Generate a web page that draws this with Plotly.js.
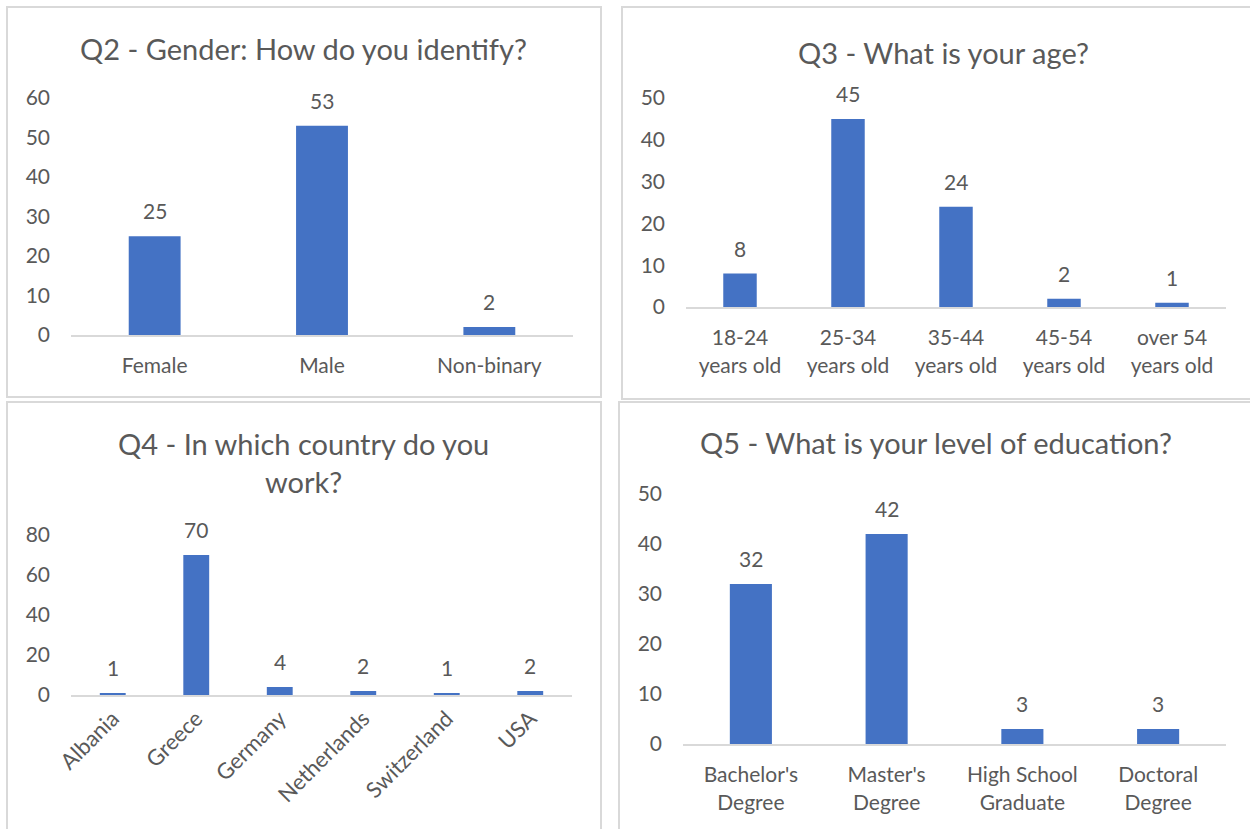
<!DOCTYPE html>
<html>
<head>
<meta charset="utf-8">
<script src="https://cdn.plot.ly/plotly-3.0.1.min.js"></script>
<style>
  html, body { margin: 0; padding: 0; background: #ffffff; }
  #chart { width: 1250px; height: 829px; }
</style>
</head>
<body>
<div id="chart"></div>
<script>
// Survey demographics: four bar charts
const genderCategories = ['Female', 'Male', 'Non-binary'];
const genderCounts = [25, 53, 2];

const ageCategories = ['18-24<br>years old', '25-34<br>years old', '35-44<br>years old', '45-54<br>years old', 'over 54<br>years old'];
const ageCounts = [8, 45, 24, 2, 1];

const countryCategories = ['Albania', 'Greece', 'Germany', 'Netherlands', 'Switzerland', 'USA'];
const countryCounts = [1, 70, 4, 2, 1, 2];

const educationCategories = ["Bachelor's<br>Degree", "Master's<br>Degree", 'High School<br>Graduate', 'Doctoral<br>Degree'];
const educationCounts = [32, 42, 3, 3];

const titles = [
  'Q2 - Gender: How do you identify?',
  'Q3 - What is your age?',
  'Q4 - In which country do you<br>work?',
  'Q5 - What is your level of education?'
];

const BAR = '#4472C4';
const TEXT = '#595959';
const RULE = '#D9D9D9';
const FONT = 'Lato, "Open Sans", sans-serif';
const W = 1250, H = 829;

const px = v => v / W;
const py = v => 1 - v / H;

const panels = [
  { cats: genderCategories, vals: genderCounts, x: [71, 573], y: [335, 98], range: [0, 60], dtick: 10, angle: 0, title: [303.5, 48] },
  { cats: ageCategories, vals: ageCounts, x: [686, 1226], y: [307, 98], range: [0, 50], dtick: 10, angle: 0, title: [943, 52] },
  { cats: countryCategories, vals: countryCounts, x: [71, 572], y: [695, 535], range: [0, 80], dtick: 20, angle: -45, title: [303.5, 463] },
  { cats: educationCategories, vals: educationCounts, x: [683, 1226], y: [744, 494], range: [0, 50], dtick: 10, angle: 0, title: [936, 443] }
];

const data = [];
const layout = {
  width: W, height: H,
  margin: { l: 0, r: 0, t: 0, b: 0 },
  paper_bgcolor: '#ffffff',
  plot_bgcolor: 'rgba(0,0,0,0)',
  showlegend: false,
  bargap: 0.69,
  font: { family: FONT, color: TEXT, size: 21 },
  annotations: [],
  shapes: []
};

panels.forEach((p, i) => {
  const n = i + 1;
  const xa = 'x' + (n === 1 ? '' : n);
  const ya = 'y' + (n === 1 ? '' : n);
  data.push({
    type: 'bar',
    x: p.cats,
    y: p.vals,
    xaxis: xa,
    yaxis: ya,
    marker: { color: BAR },
    hoverinfo: 'x+y'
  });
  layout['xaxis' + (n === 1 ? '' : n)] = {
    domain: [px(p.x[0]), px(p.x[1])],
    anchor: ya,
    type: 'category',
    range: [-0.5, p.cats.length - 0.5],
    showline: true, linecolor: RULE, linewidth: 2,
    showgrid: false, zeroline: false,
    ticks: '', tickangle: p.angle,
    ticklabelstandoff: p.angle ? 0 : 11,
    tickfont: { family: FONT, size: p.angle ? 22 : 21, color: TEXT },
    fixedrange: true
  };
  layout['yaxis' + (n === 1 ? '' : n)] = {
    domain: [py(p.y[0]), py(p.y[1])],
    anchor: xa,
    range: p.range,
    dtick: p.dtick,
    showline: false, showgrid: false, zeroline: false,
    ticks: '',
    ticklabelstandoff: 20,
    tickfont: { family: FONT, size: 21, color: TEXT },
    fixedrange: true
  };
  // value labels above each bar
  p.cats.forEach((c, k) => {
    layout.annotations.push({
      xref: xa, yref: ya, x: c, y: p.vals[k],
      text: String(p.vals[k]),
      showarrow: false, yanchor: 'bottom', yshift: 11,
      font: { family: FONT, size: 21, color: TEXT }
    });
  });
  // chart title
  layout.annotations.push({
    xref: 'paper', yref: 'paper',
    x: px(p.title[0]), y: py(p.title[1]),
    xanchor: 'center', yanchor: 'middle',
    text: titles[i], showarrow: false,
    font: { family: FONT, size: 29, color: TEXT }
  });
});

// panel frames
const frames = [
  [7, 7, 601, 397],
  [622, 7, 1262, 399],
  [7, 402, 601, 845],
  [619, 402, 1262, 845]
];
frames.forEach(f => {
  layout.shapes.push({
    type: 'rect', xref: 'paper', yref: 'paper',
    x0: px(f[0]), x1: px(f[2]), y0: py(f[3]), y1: py(f[1]),
    line: { color: RULE, width: 2 }, fillcolor: 'rgba(0,0,0,0)', layer: 'below'
  });
});

Plotly.newPlot('chart', data, layout, { displayModeBar: false, staticPlot: true });
</script>
</body>
</html>
